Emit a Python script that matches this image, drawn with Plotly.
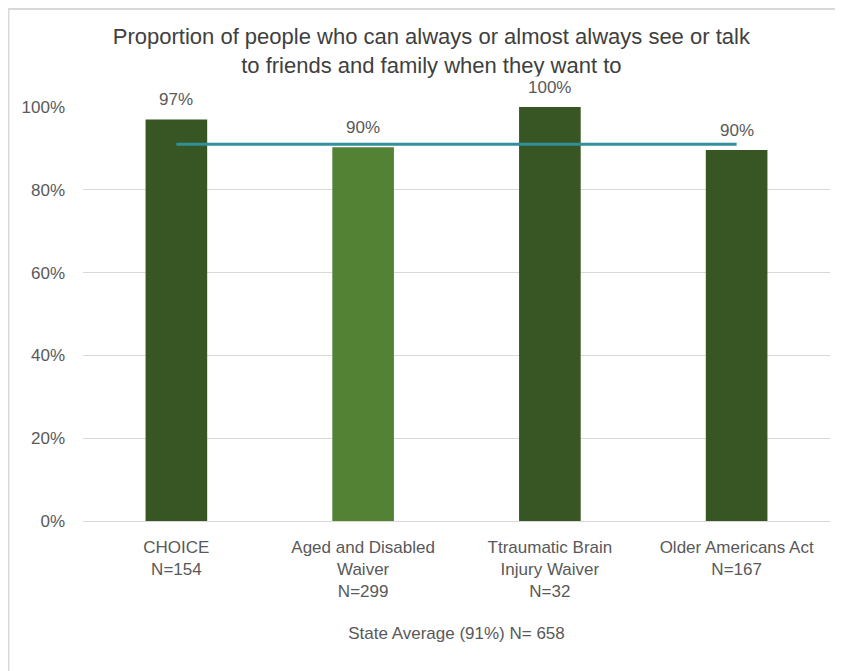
import plotly.graph_objects as go

categories = ["CHOICE<br>N=154", "Aged and Disabled<br>Waiver<br>N=299",
              "Ttraumatic Brain<br>Injury Waiver<br>N=32", "Older Americans Act<br>N=167"]
values = [0.97, 0.903, 1.00, 0.896]
value_labels = ["97%", "90%", "100%", "90%"]
bar_colors = ["#375623", "#548235", "#375623", "#375623"]
state_average = 0.91
title_text = "Proportion of people who can always or almost always see or talk<br>to friends and family when they want to"
x_title = "State Average (91%) N= 658"

FONT = "Liberation Sans"
TXT = "#595959"

fig = go.Figure()
fig.add_trace(go.Bar(x=categories, y=values, marker_color=bar_colors,
                     marker_line_width=0, width=0.33, showlegend=False,
                     hoverinfo="skip"))
fig.add_trace(go.Scatter(x=[categories[0], categories[-1]], y=[state_average, state_average],
                         mode="lines", line=dict(color="#31909A", width=3),
                         showlegend=False, hoverinfo="skip"))

for c, v, t in zip(categories, values, value_labels):
    fig.add_annotation(x=c, y=v, text=t, showarrow=False, yanchor="middle", yshift=20,
                       bgcolor="white", font=dict(family=FONT, size=17, color=TXT))

fig.update_layout(
    width=835, height=663,
    margin=dict(l=75, r=13, t=99, b=150),
    paper_bgcolor="white", plot_bgcolor="white",
    title=dict(text=title_text, x=0.507, xanchor="center", y=0.945, yanchor="top",
               font=dict(family=FONT, size=22, color="#404040")),
    font=dict(family=FONT, size=17, color=TXT),
    xaxis=dict(showgrid=False, showline=False, ticks="", tickfont=dict(size=17, color=TXT),
               ticklabelstandoff=14,
               title=dict(text=x_title, font=dict(size=17, color=TXT), standoff=26)),
    yaxis=dict(range=[0, 1], tickformat=".0%", dtick=0.2, showgrid=True, gridcolor="#D9D9D9",
               gridwidth=1, zeroline=True, zerolinecolor="#D9D9D9", zerolinewidth=1,
               showline=False, tickfont=dict(size=17, color=TXT), ticks="", ticklabelstandoff=17),
    shapes=[
        dict(type="line", xref="paper", yref="paper", x0=-74.5/747, x1=-74.5/747, y0=-1, y1=2,
             line=dict(color="#D9D9D9", width=2)),
        dict(type="line", xref="paper", yref="paper", x0=-0.2, x1=1.2, y0=1 + 98/414, y1=1 + 98/414,
             line=dict(color="#D9D9D9", width=2)),
    ],
)

fig.write_html("out.html")
